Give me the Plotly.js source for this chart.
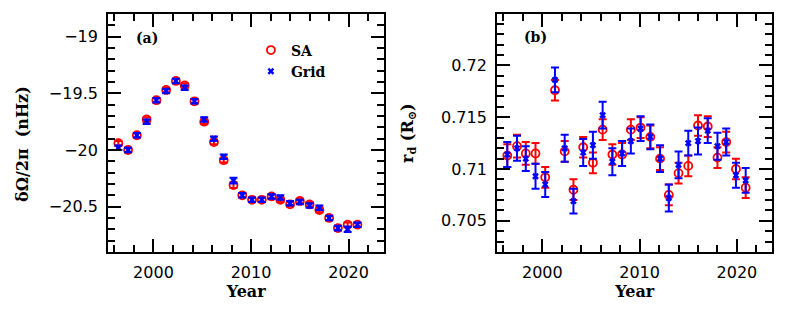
<!DOCTYPE html>
<html>
<head>
<meta charset="utf-8">
<script src="https://cdn.plot.ly/plotly-3.0.1.min.js"></script>
<style>
html,body{margin:0;padding:0;background:#fff;}
#chart{width:789px;height:328px;}
</style>
</head>
<body>
<div id="chart"></div>
<script>
// epochs (year) of each data set
let years=[1996.4,1997.4,1998.3,1999.3,2000.3,2001.3,2002.3,2003.2,2004.2,2005.2,2006.2,2007.2,2008.2,2009.1,2010.1,2011.1,2012.1,2013.0,2014.0,2015.0,2016.0,2017.0,2018.0,2018.9,2019.9,2020.9];

// panel (a) : dOmega/2pi in nHz
let omegaSA=[-19.94,-20.00,-19.87,-19.73,-19.56,-19.47,-19.39,-19.43,-19.57,-19.75,-19.93,-20.09,-20.31,-20.40,-20.44,-20.44,-20.41,-20.44,-20.48,-20.45,-20.48,-20.53,-20.60,-20.69,-20.66,-20.66];
let omegaSAerr=[0.02,0.02,0.02,0.02,0.02,0.02,0.02,0.02,0.02,0.02,0.02,0.02,0.025,0.02,0.02,0.02,0.02,0.02,0.02,0.02,0.02,0.02,0.02,0.02,0.02,0.02];
let omegaGrid=[-19.98,-20.00,-19.87,-19.75,-19.56,-19.48,-19.39,-19.45,-19.57,-19.73,-19.90,-20.06,-20.27,-20.40,-20.44,-20.44,-20.41,-20.42,-20.47,-20.46,-20.49,-20.51,-20.60,-20.69,-20.70,-20.66];
let omegaGridErr=[0.02,0.02,0.02,0.02,0.02,0.02,0.02,0.02,0.02,0.02,0.02,0.02,0.025,0.02,0.02,0.02,0.02,0.02,0.02,0.02,0.02,0.02,0.02,0.02,0.025,0.02];

// panel (b) : r_d in solar radii
let rdSA=[0.7113,0.7122,0.7115,0.7115,0.7092,0.7176,0.7117,0.7080,0.7121,0.7106,0.7138,0.7114,0.7114,0.7138,0.7140,0.7131,0.7110,0.7075,0.7096,0.7103,0.7142,0.7141,0.7111,0.7126,0.7100,0.7082];
let rdSAerr=[0.0011,0.0011,0.0011,0.0010,0.0010,0.0010,0.0010,0.0010,0.0010,0.0010,0.0010,0.0010,0.0011,0.0010,0.0010,0.0011,0.0011,0.0010,0.0010,0.0010,0.0010,0.0010,0.0010,0.0010,0.0010,0.0010];
let rdGrid=[0.7114,0.7120,0.7110,0.7093,0.7085,0.7186,0.7120,0.7069,0.7116,0.7123,0.7152,0.7107,0.7115,0.7127,0.7139,0.7131,0.7110,0.7072,0.7104,0.7125,0.7127,0.7137,0.7122,0.7126,0.7094,0.7089];
let rdGridErr=[0.0012,0.0012,0.0012,0.0012,0.0012,0.0012,0.0013,0.0012,0.0013,0.0013,0.0013,0.0013,0.0012,0.0012,0.0012,0.0012,0.0013,0.0013,0.0013,0.0012,0.0013,0.0012,0.0013,0.0013,0.0012,0.0012];

let red="#ff0000";
let blue="#0000ff";
let tickFont={family:"DejaVu Sans, sans-serif",size:16,color:"#000"};
let titleFont={family:"DejaVu Serif, serif",size:16,color:"#000",weight:"bold"};

function saTrace(y,err,xa,ya,leg){
return {
x:years,y:y,xaxis:xa,yaxis:ya,
type:"scatter",mode:"markers",name:"SA",showlegend:leg,
marker:{symbol:"circle-open",size:8,color:red,line:{width:1.8,color:red}},
error_y:{type:"data",array:err,visible:true,color:red,thickness:2,width:4}
};
}

function gridTrace(y,err,xa,ya,leg){
return {
x:years,y:y,xaxis:xa,yaxis:ya,
type:"scatter",mode:"markers",name:"Grid",showlegend:leg,
marker:{symbol:"x",size:6,color:blue,line:{width:0}},
error_y:{type:"data",array:err,visible:true,color:blue,thickness:2,width:4}
};
}

function xAxis(dom,anchor){
return {
domain:dom,anchor:anchor,range:[1995.35,2023.65],
tick0:2000,dtick:10,ticks:"inside",ticklen:13,tickwidth:2,tickcolor:"#000",
minor:{tick0:1996,dtick:2,ticks:"inside",ticklen:7,tickwidth:2,tickcolor:"#000"},
showline:true,linewidth:2,linecolor:"#000",mirror:"allticks",
showgrid:false,zeroline:false,tickfont:tickFont,ticklabelstandoff:5,
title:{text:"Year",font:titleFont,standoff:3}
};
}

function yAxis(dom,anchor,range,t0,dt,mdt){
return {
domain:dom,anchor:anchor,range:range,
tick0:t0,dtick:dt,ticks:"inside",ticklen:13,tickwidth:2,tickcolor:"#000",
minor:{dtick:mdt,ticks:"inside",ticklen:7,tickwidth:2,tickcolor:"#000"},
showline:true,linewidth:2,linecolor:"#000",mirror:"allticks",
showgrid:false,zeroline:false,tickfont:tickFont,ticklabelstandoff:5
};
}

let data=[
saTrace(omegaSA,omegaSAerr,"x","y",true),
gridTrace(omegaGrid,omegaGridErr,"x","y",true),
saTrace(rdSA,rdSAerr,"x2","y2",false),
gridTrace(rdGrid,rdGridErr,"x2","y2",false)
];

let ydom=[0.232,0.957];
let labelFont={family:"DejaVu Serif, serif",size:14,color:"#000",weight:"bold"};

let layout={
width:789,height:328,
margin:{l:0,r:0,t:0,b:0},
paper_bgcolor:"#fff",plot_bgcolor:"#fff",
showlegend:true,
legend:{
x:0.318,y:0.895,xanchor:"left",yanchor:"top",
bgcolor:"rgba(0,0,0,0)",itemwidth:30,tracegroupgap:0,
font:{family:"DejaVu Serif, serif",size:14,color:"#000",weight:"bold"}
},
xaxis:xAxis([0.137,0.487],"y"),
yaxis:yAxis(ydom,"x",[-20.9,-18.8],-19,0.5,0.1),
xaxis2:xAxis([0.630,0.979],"y2"),
yaxis2:yAxis(ydom,"x2",[0.702,0.72495],0.705,0.005,0.001),
annotations:[
// y axis titles, placed by hand so they sit where the reference has them
{text:"δΩ/2π  (nHz)",xref:"paper",yref:"paper",x:23/789,y:1-144/328,xanchor:"center",yanchor:"middle",
textangle:-90,showarrow:false,font:titleFont},
{text:"r<sub>d</sub> (R<sub>⊙</sub>)",xref:"paper",yref:"paper",x:408/789,y:1-133/328,xanchor:"center",yanchor:"middle",
textangle:-90,showarrow:false,font:titleFont},
{text:"(a)",xref:"paper",yref:"paper",x:147/789,y:1-38/328,xanchor:"center",yanchor:"middle",showarrow:false,font:labelFont},
{text:"(b)",xref:"paper",yref:"paper",x:535/789,y:1-37/328,xanchor:"center",yanchor:"middle",showarrow:false,font:labelFont}
]
};

Plotly.newPlot("chart",data,layout,{staticPlot:true});
</script>
</body>
</html>
